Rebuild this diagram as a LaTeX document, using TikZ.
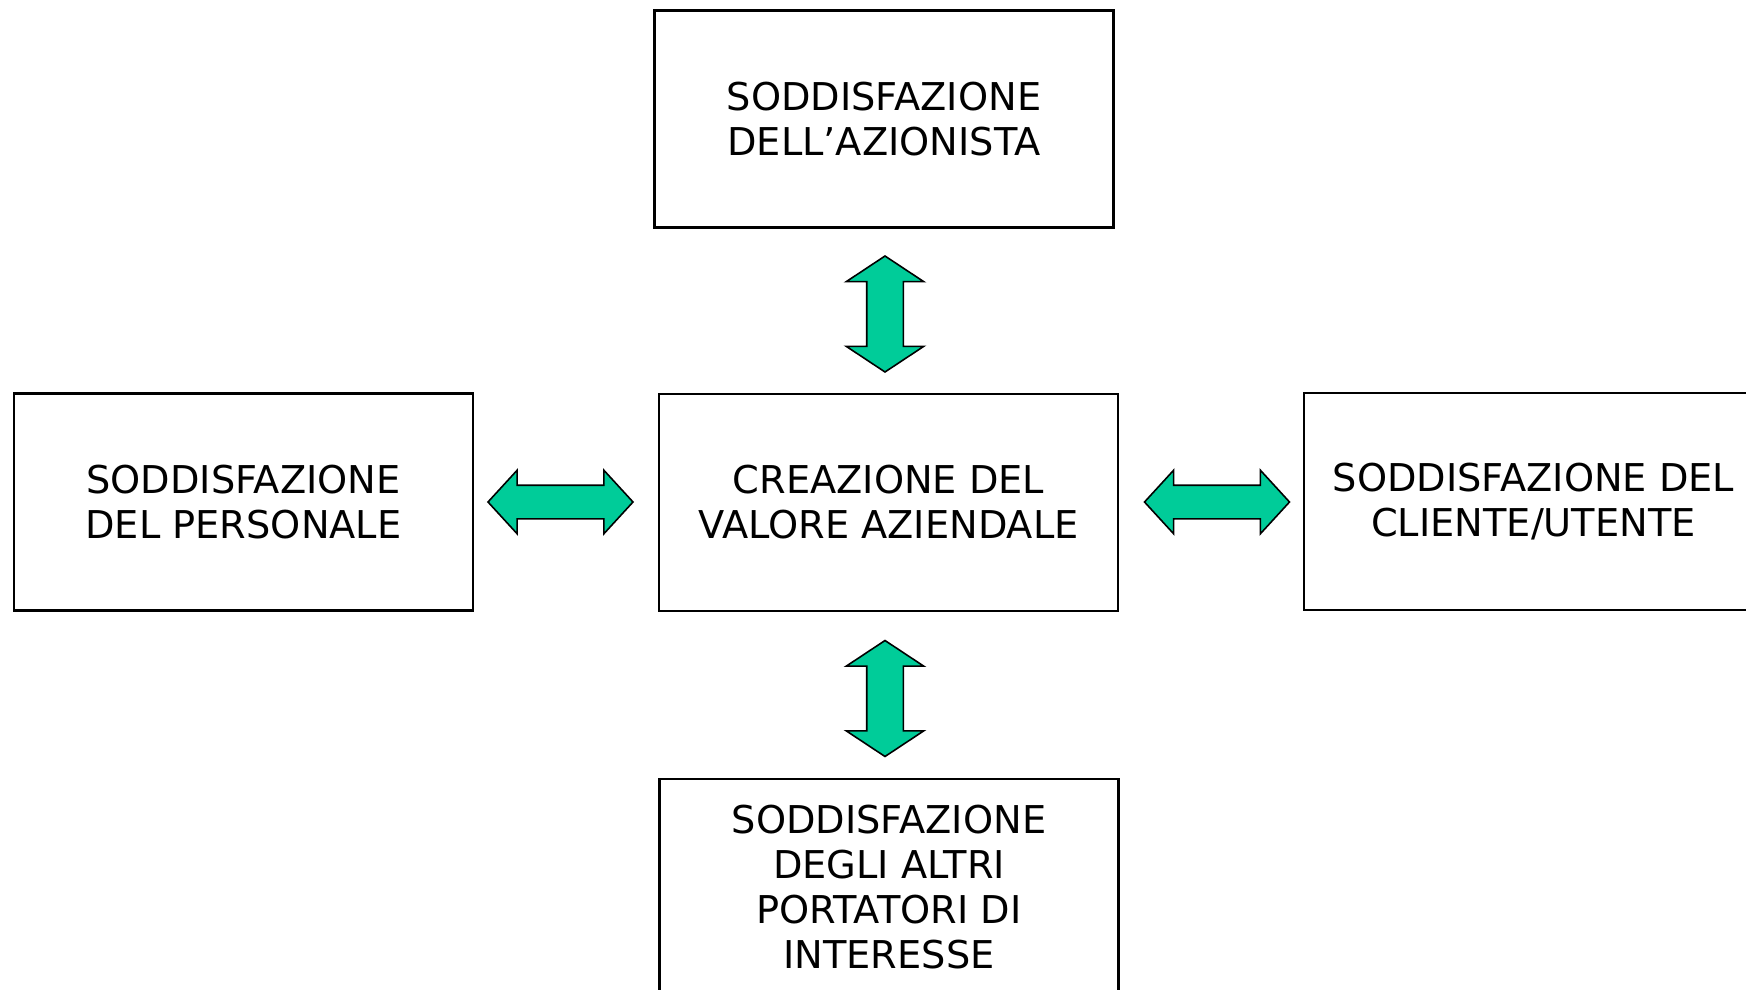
\documentclass[tikz,border=0pt]{standalone}
\usepackage{fontspec}
\setmainfont{DejaVu Sans}
\usepackage{tikz}
\usetikzlibrary{shapes.arrows,positioning}
\definecolor{linkgreen}{RGB}{0,204,153}

\begin{document}
\begin{tikzpicture}[
 goal/.style={rectangle,draw=black,line width=0.6pt,minimum width=4.59cm,minimum height=2.17cm,align=center,font=\fontsize{10.9}{12.8}\selectfont},
 vlink/.style={double arrow,draw=black,line width=0.45pt,fill=linkgreen,minimum height=1.16cm,minimum width=0.76cm,double arrow head extend=0.205cm,double arrow tip angle=113,inner xsep=0pt,inner ysep=0.175cm,rotate=90},
 hlink/.style={double arrow,draw=black,line width=0.45pt,fill=linkgreen,minimum height=1.45cm,minimum width=0.62cm,double arrow head extend=0.15cm,double arrow tip angle=95,inner xsep=0pt,inner ysep=0.16cm}
]
\useasboundingbox (0,0) rectangle (17.46,-9.90);
\node[goal] (azion) at (8.84,-1.19) {SODDISFAZIONE\\DELL’AZIONISTA};
\node[goal] (valore) at (8.885,-5.025) {CREAZIONE DEL\\VALORE AZIENDALE};
\node[goal] (personale) at (2.435,-5.02) {SODDISFAZIONE\\DEL PERSONALE};
\node[goal] (cliente) at (15.335,-5.015) {SODDISFAZIONE DEL\\CLIENTE/UTENTE};
\node[goal] (altri) at (8.89,-8.875) {SODDISFAZIONE\\DEGLI ALTRI\\PORTATORI DI\\INTERESSE};
\node[vlink] (up) at (8.85,-3.14) {};
\node[vlink] (down) at (8.85,-6.985) {};
\node[hlink] (left) at (5.605,-5.02) {};
\node[hlink] (right) at (12.17,-5.02) {};
\end{tikzpicture}
\end{document}
